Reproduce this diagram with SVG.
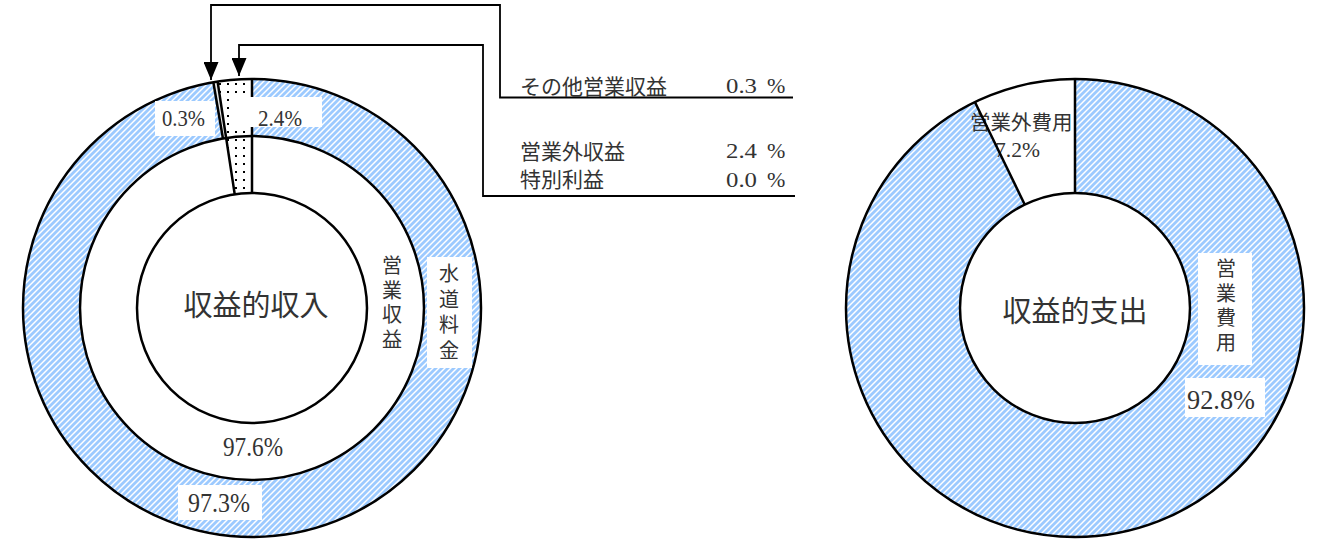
<svg xmlns="http://www.w3.org/2000/svg" width="1324" height="542" viewBox="0 0 1324 542">
<defs>
<pattern id="hatch" patternUnits="userSpaceOnUse" width="6" height="6">
<rect width="6" height="6" fill="#ffffff"/>
<path d="M-1.5,1.5 L1.5,-1.5 M0,6 L6,0 M4.5,7.5 L7.5,4.5" stroke="#9ccaff" stroke-width="2.8"/>
</pattern>
<pattern id="dots" patternUnits="userSpaceOnUse" width="8" height="8">
<rect width="8" height="8" fill="#ffffff"/>
<rect x="3" y="3" width="2" height="2" fill="#000000"/>
</pattern>
<marker id="arrow" markerUnits="userSpaceOnUse" viewBox="0 0 18 15" refX="18" refY="7.5" markerWidth="18" markerHeight="15" orient="auto">
<path d="M0,0 L18,7.5 L0,15 Z" fill="#000"/>
</marker>
</defs>
<style>
.ring{fill:none;stroke:#000;stroke-width:2.5}
.div{fill:none;stroke:#000;stroke-width:2.5}
.conn{fill:none;stroke:#000;stroke-width:1.8}
.box{fill:#ffffff}
.jp{font-family:"Noto Sans CJK JP","Noto Sans CJK SC",sans-serif;fill:#333}
.vt{writing-mode:vertical-rl}
.num{font-family:"Liberation Serif",serif;fill:#333}
</style>
<rect width="1324" height="542" fill="#ffffff"/>

<g id="income-chart">
<circle cx="252" cy="308" r="229" fill="url(#hatch)"/>
<circle cx="252" cy="308" r="172" fill="#ffffff"/>
<circle cx="252" cy="308" r="115" fill="#ffffff"/>
<path d="M252,79 A229,229 0 0 0 217.60,81.60 L234.72,194.31 A115,115 0 0 1 252,193 Z" fill="url(#dots)"/>
<path d="M217.60,81.60 A229,229 0 0 0 213.34,82.29 L222.96,138.47 A172,172 0 0 1 226.16,137.95 Z" fill="#e8e8e8"/>
<circle class="ring" cx="252" cy="308" r="229"/>
<circle class="ring" cx="252" cy="308" r="172"/>
<circle class="ring" cx="252" cy="308" r="115"/>
<path class="div" d="M252,79 V193 M217.60,81.60 L234.72,194.31 M213.34,82.29 L222.96,138.47"/>
</g>

<g id="label-other-operating">
<rect class="box" x="155" y="101" width="60" height="35"/>
<text class="num" x="162" y="126" font-size="23" textLength="43" lengthAdjust="spacingAndGlyphs">0.3%</text>
</g>
<g id="label-non-operating">
<rect class="box" x="234" y="97" width="88" height="30"/>
<text class="num" x="258" y="126" font-size="23" textLength="44" lengthAdjust="spacingAndGlyphs">2.4%</text>
</g>
<g id="label-operating-revenue">
<text class="jp vt" x="392" y="255.5" font-size="20" letter-spacing="4.7">営業収益</text>
<text class="num" x="223" y="456" font-size="27" textLength="60" lengthAdjust="spacingAndGlyphs">97.6%</text>
</g>
<g id="label-water-charge">
<rect class="box" x="427" y="257" width="45" height="111"/>
<text class="jp vt" x="449" y="263.5" font-size="20" letter-spacing="5.5">水道料金</text>
<rect class="box" x="178" y="485" width="84" height="35"/>
<text class="num" x="188" y="512" font-size="27" textLength="62" lengthAdjust="spacingAndGlyphs">97.3%</text>
</g>
<g id="income-center">
<text class="jp" x="256" y="316" font-size="29" text-anchor="middle">収益的収入</text>
</g>

<g id="expense-chart">
<circle cx="1075" cy="308" r="229" fill="url(#hatch)"/>
<path d="M1075,79 A229,229 0 0 0 974.90,102.04 L1024.73,204.57 A115,115 0 0 1 1075,193 Z" fill="#ffffff"/>
<circle cx="1075" cy="308" r="115" fill="#ffffff"/>
<text class="jp" x="970" y="130" font-size="20.5">営業外費用</text>
<text class="num" x="995" y="157" font-size="22" textLength="45" lengthAdjust="spacingAndGlyphs">7.2%</text>
<circle class="ring" cx="1075" cy="308" r="229"/>
<circle class="ring" cx="1075" cy="308" r="115"/>
<path class="div" d="M1075,79 V193 M974.90,102.04 L1024.73,204.57"/>
</g>
<g id="label-operating-expense">
<rect class="box" x="1198" y="253" width="54" height="112"/>
<text class="jp vt" x="1226" y="258.5" font-size="20" letter-spacing="4.5">営業費用</text>
<rect class="box" x="1185" y="378" width="80" height="39"/>
<text class="num" x="1187" y="409" font-size="27" textLength="68" lengthAdjust="spacingAndGlyphs">92.8%</text>
</g>
<g id="expense-center">
<text class="jp" x="1075" y="322" font-size="29" text-anchor="middle">収益的支出</text>
</g>

<g id="legend">
<text class="jp" x="520" y="93.5" font-size="21">その他営業収益</text>
<text class="num" x="726" y="93" font-size="22" textLength="31" lengthAdjust="spacingAndGlyphs">0.3</text>
<text class="num" x="767" y="93" font-size="22">%</text>
<text class="jp" x="520" y="158.5" font-size="21">営業外収益</text>
<text class="num" x="726" y="158" font-size="22" textLength="31" lengthAdjust="spacingAndGlyphs">2.4</text>
<text class="num" x="767" y="158" font-size="22">%</text>
<text class="jp" x="520" y="186.5" font-size="21">特別利益</text>
<text class="num" x="726" y="187" font-size="22" textLength="31" lengthAdjust="spacingAndGlyphs">0.0</text>
<text class="num" x="767" y="187" font-size="22">%</text>
</g>

<g id="connectors">
<path class="conn" d="M793,97.5 H500 V5 H211 V80" marker-end="url(#arrow)"/>
<path class="conn" d="M795,196 H483 V45 H239 V76" marker-end="url(#arrow)"/>
</g>
</svg>
